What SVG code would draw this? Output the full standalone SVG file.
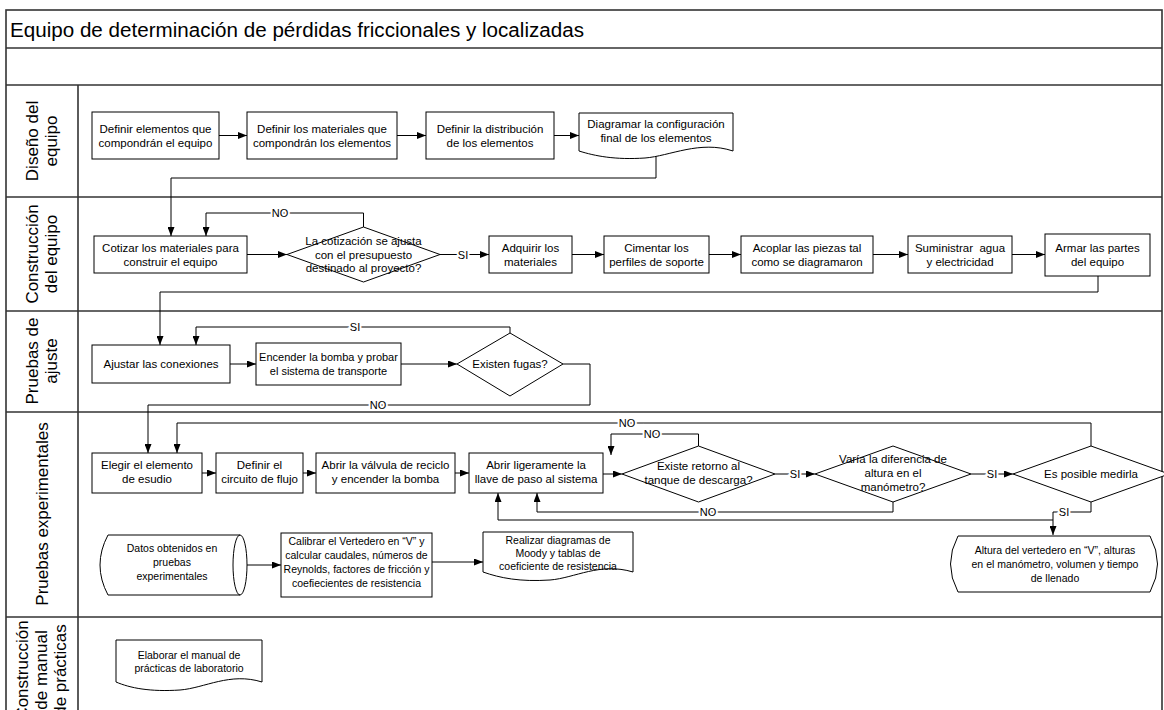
<svg xmlns="http://www.w3.org/2000/svg" width="1164" height="710" viewBox="0 0 1164 710">
<style>
.t{font-family:"Liberation Sans",Arial,sans-serif;font-size:11.5px;fill:#000;text-anchor:middle}
.s{font-size:10.5px}
.m{font-size:11px}
.ln{font-family:"Liberation Sans",Arial,sans-serif;font-size:17px;fill:#000;text-anchor:middle}
.box{fill:#fff;stroke:#000;stroke-width:1}
.c{fill:none;stroke:#000;stroke-width:1}
.lane{fill:none;stroke:#333;stroke-width:1.6}
.lbl{font-family:"Liberation Sans",Arial,sans-serif;font-size:11px;fill:#000;text-anchor:middle;stroke:#fff;stroke-width:4;paint-order:stroke}
</style>
<defs>
<marker id="a" markerUnits="userSpaceOnUse" markerWidth="9" markerHeight="7" refX="9" refY="3.5" orient="auto"><path d="M0,0L9,3.5L0,7z" fill="#000"/></marker>
</defs>
<rect width="1164" height="710" fill="#fff"/>
<g id="frame">
<rect class="lane" x="6" y="10" width="1156" height="720"/>
<line class="lane" x1="6" y1="48" x2="1162" y2="48"/>
<line class="lane" x1="6" y1="85" x2="1162" y2="85"/>
<line class="lane" x1="6" y1="197" x2="1162" y2="197"/>
<line class="lane" x1="6" y1="311" x2="1162" y2="311"/>
<line class="lane" x1="6" y1="412" x2="1162" y2="412"/>
<line class="lane" x1="6" y1="617" x2="1162" y2="617"/>
<line class="lane" x1="78" y1="85" x2="78" y2="710"/>
<text x="10" y="37" font-family="Liberation Sans,Arial,sans-serif" font-size="20" textLength="574" lengthAdjust="spacingAndGlyphs">Equipo de determinación de pérdidas friccionales y localizadas</text>
</g>
<g id="lanes">
<text class="ln" transform="translate(42,141) rotate(-90)"><tspan x="0" y="-4">Diseño del</tspan><tspan x="0" y="15">equipo</tspan></text>
<text class="ln" transform="translate(42,254) rotate(-90)"><tspan x="0" y="-4">Construcción</tspan><tspan x="0" y="15">del equipo</tspan></text>
<text class="ln" transform="translate(42,361) rotate(-90)"><tspan x="0" y="-4">Pruebas de</tspan><tspan x="0" y="15">ajuste</tspan></text>
<text class="ln" transform="translate(42,514) rotate(-90)"><tspan x="0" y="6">Pruebas experimentales</tspan></text>
<text class="ln" transform="translate(42,670) rotate(-90)"><tspan x="0" y="-14">Construcción</tspan><tspan x="0" y="5">de manual</tspan><tspan x="0" y="24">de prácticas</tspan></text>
</g>
<g id="connectors">
<line class="c" x1="219" y1="135.5" x2="247" y2="135.5" marker-end="url(#a)"/>
<line class="c" x1="397" y1="135.5" x2="426" y2="135.5" marker-end="url(#a)"/>
<line class="c" x1="554" y1="135.5" x2="579" y2="135.5" marker-end="url(#a)"/>
<path class="c" d="M656,156V178H171V236" marker-end="url(#a)"/>
<line class="c" x1="247" y1="254.5" x2="287" y2="254.5" marker-end="url(#a)"/>
<path class="c" d="M363.5,227V213H206V236" marker-end="url(#a)"/>
<line class="c" x1="440" y1="254.5" x2="489" y2="254.5" marker-end="url(#a)"/>
<line class="c" x1="572" y1="254.5" x2="604" y2="254.5" marker-end="url(#a)"/>
<line class="c" x1="709" y1="254.5" x2="741" y2="254.5" marker-end="url(#a)"/>
<line class="c" x1="873" y1="254.5" x2="908" y2="254.5" marker-end="url(#a)"/>
<line class="c" x1="1012" y1="254.5" x2="1045" y2="254.5" marker-end="url(#a)"/>
<path class="c" d="M1098,276V292H160V345" marker-end="url(#a)"/>
<line class="c" x1="230" y1="364" x2="256" y2="364" marker-end="url(#a)"/>
<line class="c" x1="401" y1="364" x2="457" y2="364" marker-end="url(#a)"/>
<path class="c" d="M510,333V327H196V345" marker-end="url(#a)"/>
<path class="c" d="M563,364H590V405H148V453" marker-end="url(#a)"/>
<line class="c" x1="202" y1="473" x2="216" y2="473" marker-end="url(#a)"/>
<line class="c" x1="303" y1="473" x2="316" y2="473" marker-end="url(#a)"/>
<line class="c" x1="455" y1="473" x2="469" y2="473" marker-end="url(#a)"/>
<line class="c" x1="603" y1="474" x2="622" y2="474" marker-end="url(#a)"/>
<line class="c" x1="775" y1="474" x2="815" y2="474" marker-end="url(#a)"/>
<line class="c" x1="971" y1="474" x2="1013" y2="474" marker-end="url(#a)"/>
<path class="c" d="M1091,446V423H177V453" marker-end="url(#a)"/>
<path class="c" d="M698.5,446V434H611V455" marker-end="url(#a)"/>
<path class="c" d="M893,502V512H537V493" marker-end="url(#a)"/>
<path class="c" d="M1091,502V512H1053V535" marker-end="url(#a)"/>
<path class="c" d="M1053,520H498V493" marker-end="url(#a)"/>
<line class="c" x1="247" y1="565" x2="281" y2="565" marker-end="url(#a)"/>
<line class="c" x1="432" y1="562" x2="483" y2="562" marker-end="url(#a)"/>
<text class="lbl" x="280" y="217">NO</text>
<text class="lbl" x="463" y="258.5">SI</text>
<text class="lbl" x="355" y="331">SI</text>
<text class="lbl" x="378" y="409">NO</text>
<text class="lbl" x="627" y="427">NO</text>
<text class="lbl" x="652" y="438">NO</text>
<text class="lbl" x="795" y="478">SI</text>
<text class="lbl" x="992" y="478">SI</text>
<text class="lbl" x="708" y="516">NO</text>
<text class="lbl" x="1064" y="516">SI</text>
</g>
<g id="n1"><rect class="box" x="92" y="112" width="127" height="47"/><text class="t" x="155.5" y="133">Definir elementos que</text><text class="t" x="155.5" y="147">compondrán el equipo</text></g>
<g id="n2"><rect class="box" x="247" y="112" width="150" height="47"/><text class="t" x="322" y="133">Definir los materiales que</text><text class="t" x="322" y="147">compondrán los elementos</text></g>
<g id="n3"><rect class="box" x="426" y="112" width="128" height="47"/><text class="t" x="490" y="133">Definir la distribución</text><text class="t" x="490" y="147">de los elementos</text></g>
<g id="n4"><path class="box" d="M579,113H733V151C700,140 670,156 645,158C615,160 595,156 579,151Z"/><text class="t" x="656" y="128">Diagramar la configuración</text><text class="t" x="656" y="142">final de los elementos</text></g>
<g id="n5"><rect class="box" x="94" y="236" width="153" height="37"/><text class="t" x="170.5" y="252">Cotizar los materiales para</text><text class="t" x="170.5" y="266">construir el equipo</text></g>
<g id="d1"><path class="box" d="M287,254.5L363.5,227L440,254.5L363.5,282Z"/><text class="t" x="363.5" y="245">La cotización se ajusta</text><text class="t" x="363.5" y="258.5">con el presupuesto</text><text class="t" x="363.5" y="272">destinado al proyecto?</text></g>
<g id="n6"><rect class="box" x="489" y="236" width="83" height="37"/><text class="t" x="530.5" y="252">Adquirir los</text><text class="t" x="530.5" y="266">materiales</text></g>
<g id="n7"><rect class="box" x="604" y="236" width="105" height="37"/><text class="t" x="656.5" y="252">Cimentar los</text><text class="t" x="656.5" y="266">perfiles de soporte</text></g>
<g id="n8"><rect class="box" x="741" y="236" width="132" height="37"/><text class="t" x="807" y="252">Acoplar las piezas tal</text><text class="t" x="807" y="266">como se diagramaron</text></g>
<g id="n9"><rect class="box" x="908" y="236" width="104" height="37"/><text class="t" x="960" y="252" xml:space="preserve">Suministrar  agua</text><text class="t" x="960" y="266">y electricidad</text></g>
<g id="n10"><rect class="box" x="1045" y="234" width="105" height="42"/><text class="t" x="1097.5" y="252">Armar las partes</text><text class="t" x="1097.5" y="266">del equipo</text></g>
<g id="n11"><rect class="box" x="92" y="345" width="138" height="38"/><text class="t" x="161" y="368">Ajustar las conexiones</text></g>
<g id="n12"><rect class="box" x="256" y="343" width="145" height="42"/><text class="t m" x="328.5" y="361">Encender la bomba y probar</text><text class="t m" x="328.5" y="375">el sistema de transporte</text></g>
<g id="d2"><path class="box" d="M457,364L510,333L563,364L510,396Z"/><text class="t" x="510" y="368">Existen fugas?</text></g>
<g id="n13"><rect class="box" x="92" y="453" width="110" height="40"/><text class="t" x="147" y="469">Elegir el elemento</text><text class="t" x="147" y="483">de esudio</text></g>
<g id="n14"><rect class="box" x="216" y="453" width="87" height="40"/><text class="t" x="259.5" y="469">Definir el</text><text class="t" x="259.5" y="483">circuito de flujo</text></g>
<g id="n15"><rect class="box" x="316" y="453" width="139" height="40"/><text class="t" x="385.5" y="469">Abrir la válvula de reciclo</text><text class="t" x="385.5" y="483">y encender la bomba</text></g>
<g id="n16"><rect class="box" x="469" y="453" width="134" height="40"/><text class="t" x="536" y="469">Abrir ligeramente la</text><text class="t" x="536" y="483">llave de paso al sistema</text></g>
<g id="d3"><path class="box" d="M622,474L698.5,446L775,474L698.5,502Z"/><text class="t" x="698.5" y="470">Existe retorno al</text><text class="t" x="698.5" y="484">tanque de descarga?</text></g>
<g id="d4"><path class="box" d="M815,474L893,446L971,474L893,502Z"/><text class="t" x="893" y="463">Varía la diferencia de</text><text class="t" x="893" y="477">altura en el</text><text class="t" x="893" y="491">manómetro?</text></g>
<g id="d5"><path class="box" d="M1013,474L1091,446L1169,474L1091,502Z"/><text class="t" x="1091" y="478">Es posible medirla</text></g>
<g id="n17"><path class="box" d="M958,536H1150Q1165,564 1150,592H958Q943,564 958,536Z"/><text class="t s" x="1055" y="554">Altura del vertedero en “V”, alturas</text><text class="t s" x="1055" y="568">en el manómetro, volumen y tiempo</text><text class="t s" x="1055" y="582">de llenado</text></g>
<g id="n18"><path class="box" d="M108,535H240A7,30 0 0,1 240,595H108Q92,565 108,535Z"/><path class="c" d="M240,535A7,30 0 0,0 240,595"/><text class="t s" x="172" y="552">Datos obtenidos en</text><text class="t s" x="172" y="566">pruebas</text><text class="t s" x="172" y="580">experimentales</text></g>
<g id="n19"><rect class="box" x="281" y="533" width="151" height="64"/><text class="t s" x="356.5" y="545">Calibrar el Vertedero en “V” y</text><text class="t s" x="356.5" y="559">calcular caudales, números de</text><text class="t s" x="356.5" y="573">Reynolds, factores de fricción y</text><text class="t s" x="356.5" y="587">coefiecientes de resistencia</text></g>
<g id="n20"><path class="box" d="M483,532H633V572C600,562 575,578 550,580C520,582 500,578 483,572Z"/><text class="t s" x="558" y="544">Realizar diagramas de</text><text class="t s" x="558" y="557">Moody y tablas de</text><text class="t s" x="558" y="570">coeficiente de resistencia</text></g>
<g id="n21"><path class="box" d="M116,640H262V682C230,672 205,688 180,690C150,692 130,688 116,682Z"/><text class="t s" x="189" y="659">Elaborar el manual de</text><text class="t s" x="189" y="672">prácticas de laboratorio</text></g>
</svg>
